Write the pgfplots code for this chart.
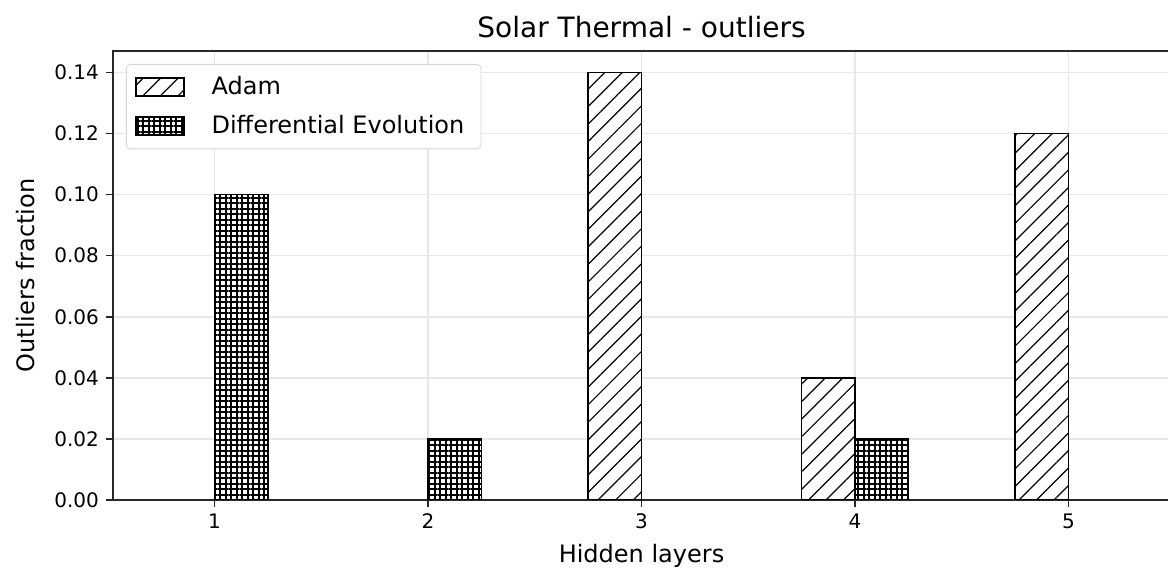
\documentclass[border=0pt]{standalone}
\usepackage{fontspec}
\setmainfont{DejaVu Sans}
\usepackage{pgfplots}
\pgfplotsset{compat=1.18}
\usetikzlibrary{patterns.meta}
\definecolor{gridgray}{RGB}{232,232,232}
\definecolor{legedge}{RGB}{214,214,214}
\definecolor{spine}{RGB}{40,40,40}
\begin{document}
\begin{tikzpicture}
\useasboundingbox (-56.5pt,-36pt) rectangle (527.5pt,250pt);
\begin{axis}[
  scale only axis,
  width=528.5pt, height=224.5pt,
  xmin=0.525, xmax=5.475, ymin=0, ymax=0.147,
  xtick={1,2,3,4,5},
  ytick={0,0.02,0.04,0.06,0.08,0.10,0.12,0.14},
  yticklabel style={/pgf/number format/.cd, fixed, fixed zerofill, precision=2},
  /pgf/number format/assume math mode=true,
  ticklabel style={font=\fontsize{10}{12}\selectfont},
  tick align=outside, tick pos=left,
  major tick length=3.5pt,
  every tick/.style={spine, line width=0.8pt},
  axis line style={spine, line width=0.8pt},
  grid=major,
  major grid style={gridgray, line width=0.8pt},
  ybar, bar width=0.25,
  title={Solar Thermal - outliers},
  title style={at={([yshift=6pt]rel axis cs:0.5,1)}, anchor=center, font=\fontsize{14}{17}\selectfont},
  xlabel={Hidden layers},
  xlabel style={at={([yshift=-28pt]rel axis cs:0.5,0)}, anchor=center, font=\fontsize{12}{14}\selectfont},
  ylabel={Outliers fraction},
  ylabel style={at={([xshift=-43.5pt]rel axis cs:0,0.5)}, anchor=center, rotate=0, font=\fontsize{12}{14}\selectfont},
  legend cell align=left,
  legend image code/.code={\draw[sharp corners,#1] (0pt,-4.5pt) rectangle (24pt,4.5pt); \path (33.5pt,0pt);},
  legend style={at={(0,1)}, anchor=north west, xshift=6.5pt, yshift=-6.5pt,
    draw=legedge, rounded corners=2pt, fill=white,
    font=\fontsize{12}{14}\selectfont, inner xsep=4.5pt, inner ysep=4pt,
    row sep=5pt},
  legend style={nodes={inner xsep=3.8pt}},
]
\addplot[draw=black, line width=0.8pt, fill=white, bar shift=-0.125,
  postaction={pattern={Lines[angle=45,distance=6.2pt,line width=0.6pt]}}]
  coordinates {(3,0.14) (4,0.04) (5,0.12)};
\addlegendentry{Adam}
\addplot[draw=black, line width=0.8pt, fill=white, bar shift=0.125,
  postaction={pattern={Hatch[angle=0,distance=2.75pt,line width=1.0pt]}}]
  coordinates {(1,0.10) (2,0.02) (4,0.02)};
\addlegendentry{Differential Evolution}
\end{axis}
\end{tikzpicture}
\end{document}
